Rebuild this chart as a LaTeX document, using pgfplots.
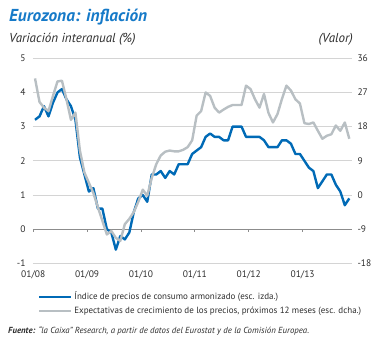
\documentclass[border=0pt]{standalone}
\usepackage{fontspec}
\setmainfont{PT Sans}
\usepackage{pgfplots}
\usepackage{pgfplotstable}
\pgfplotsset{compat=1.18}
\definecolor{ipcblue}{RGB}{0,106,182}
\definecolor{expgray}{RGB}{184,191,195}
\definecolor{titleblue}{RGB}{22,122,200}
\definecolor{txt}{RGB}{45,45,45}
\definecolor{gridc}{RGB}{212,212,212}
\definecolor{zeroc}{RGB}{140,140,140}

\pgfplotstableread{
m v
0 3.2
1 3.3
2 3.6
3 3.3
4 3.7
5 4.0
6 4.1
7 3.8
8 3.6
9 3.2
10 2.1
11 1.6
12 1.1
13 1.2
14 0.6
15 0.6
16 0.0
17 -0.1
18 -0.6
19 -0.2
20 -0.3
21 -0.1
22 0.5
23 0.9
24 1.0
25 0.8
26 1.6
27 1.6
28 1.7
29 1.5
30 1.7
31 1.6
32 1.9
33 1.9
34 1.9
35 2.2
36 2.3
37 2.4
38 2.7
39 2.8
40 2.7
41 2.7
42 2.6
43 2.6
44 3.0
45 3.0
46 3.0
47 2.7
48 2.7
49 2.7
50 2.7
51 2.6
52 2.4
53 2.4
54 2.4
55 2.6
56 2.6
57 2.5
58 2.2
59 2.2
60 2.0
61 1.8
62 1.7
63 1.2
64 1.4
65 1.6
66 1.6
67 1.3
68 1.1
69 0.7
70 0.9
}\hicp

\pgfplotstableread{
m v
0 30.7
1 24.5
2 23.0
3 22.1
4 26.1
5 29.9
6 30.1
7 25.2
8 19.8
9 21.7
10 11.7
11 5.9
12 3.2
13 0.5
14 -3.2
15 -6.8
16 -10.4
17 -9.5
18 -11.3
19 -12.1
20 -7.7
21 -6.3
22 -4.5
23 -1.8
24 1.4
25 -0.2
26 4.5
27 8.1
28 10.4
29 11.4
30 11.7
31 11.5
32 11.5
33 11.9
34 12.6
35 14.4
36 20.9
37 22.1
38 27.0
39 26.1
40 23.0
41 21.7
42 22.5
43 23.2
44 23.7
45 23.7
46 23.7
47 28.8
48 27.9
49 25.2
50 23.0
51 26.6
52 21.6
53 19.1
54 21.3
55 25.3
56 28.8
57 27.5
58 25.2
59 24.1
60 18.9
61 18.7
62 19.1
63 16.9
64 14.8
65 15.6
66 16.0
67 18.3
68 16.9
69 19.1
70 14.8
}\expect

\begin{document}
\begin{tikzpicture}
% axis box lower-left corner sits at the origin; the page is 382pt x 338pt
\useasboundingbox (-33pt,-74.7pt) rectangle (349pt,263.3pt);
\node[anchor=base west, inner sep=0, text=titleblue, font=\fontsize{17.3}{18}\selectfont\bfseries\itshape] at (-24pt,241.3pt) {Eurozona: inflación};
\node[anchor=base west, inner sep=0, text=txt, font=\fontsize{13}{14}\selectfont\itshape] at (-24pt,221.3pt) {Variación interanual (\%)};
\node[anchor=base east, inner sep=0, text=txt, font=\fontsize{13}{14}\selectfont\itshape] at (320pt,221.3pt) {(Valor)};
\node[anchor=base west, inner sep=0, text=txt, font=\fontsize{8.8}{9}\selectfont\itshape] at (-25pt,-69.7pt) {\textbf{Fuente:} “la Caixa” Research, a partir de datos del Eurostat y de la Comisión Europea.};

\begin{axis}[
  scale only axis, width=319pt, height=205pt,
  xmin=-0.45, xmax=70.6, ymin=-1, ymax=5,
  xtick={-0.4,11.6,23.6,35.6,47.6,59.6},
  xticklabels={01/08,01/09,01/10,01/11,01/12,01/13},
  xticklabel pos=lower,
  xticklabel shift=4pt,
  ytick={-1,0,1,2,3,4,5},
  yticklabels={-1,0,1,2,3,4,5},
  /pgf/number format/assume math mode=true,
  axis line style={draw=none},
  major tick length=0pt,
  ymajorgrids, grid style={gridc, line width=0.7pt},
  tick label style={text=txt, font=\fontsize{9.5}{10}\selectfont},
  yticklabel style={xshift=-4pt},
  clip=false,
]
\draw[zeroc, line width=0.8pt] (axis cs:-0.45,0) -- (axis cs:70.6,0);
\pgfplotsinvokeforeach{-0.4,11.6,23.6,35.6,47.6,59.6}{
  \draw[zeroc, line width=0.8pt] (axis cs:#1,0) -- ([yshift=-3pt]axis cs:#1,0);
}
\addplot[ipcblue, line width=2.4pt, line join=round] table[x=m,y=v] {\hicp};
\end{axis}

\begin{axis}[
  scale only axis, width=319pt, height=205pt,
  xmin=-0.45, xmax=70.6, ymin=-18, ymax=36,
  hide x axis,
  axis y line*=right,
  ytick={-18,-9,0,9,18,27,36},
  yticklabels={-18,-9,0,9,18,27,36},
  /pgf/number format/assume math mode=true,
  axis line style={draw=none},
  major tick length=0pt,
  tick label style={text=txt, font=\fontsize{9.5}{10}\selectfont},
  yticklabel style={xshift=2pt},
  legend style={at={(0.015,-0.13)}, anchor=north west, draw=none, fill=none,
    font=\fontsize{9}{10}\selectfont, text=txt, row sep=1.5pt, inner sep=0pt},
  legend cell align=left,
  legend image code/.code={\draw[#1] (0pt,0pt) -- (32pt,0pt);},
  clip=false,
]
\addlegendimage{ipcblue, line width=2.4pt}
\addlegendentry{Índice de precios de consumo armonizado (esc. izda.)}
\addplot[expgray, line width=2.4pt, line join=round] table[x=m,y=v] {\expect};
\addlegendentry{Expectativas de crecimiento de los precios, próximos 12 meses (esc. dcha.)}
\end{axis}
\end{tikzpicture}
\end{document}
